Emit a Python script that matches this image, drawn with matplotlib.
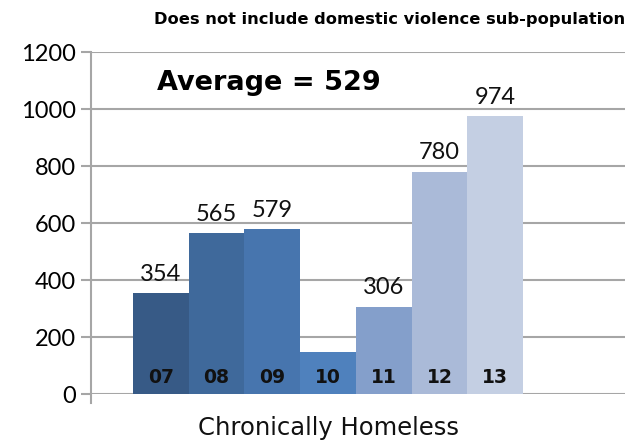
import matplotlib
matplotlib.use("Agg")
import matplotlib.pyplot as plt

years = ["07", "08", "09", "10", "11", "12", "13"]
values = [354, 565, 579, 148, 306, 780, 974]
value_labels = ["354", "565", "579", "", "306", "780", "974"]
colors = ["#375a86", "#3f699b", "#4775ae", "#4f81bd", "#849fcb", "#aabad8", "#c4cfe3"]
yticks = [0, 200, 400, 600, 800, 1000, 1200]

plt.rcParams['font.family'] = ['Lato', 'DejaVu Sans']
wide = ['DejaVu Sans']

fig = plt.figure(figsize=(6.34, 4.43), dpi=100)
ax = fig.add_axes([0.1435, 0.1106, 0.8425, 0.772])

x = list(range(len(years)))
bars = ax.bar(x, values, width=1.0, color=colors, zorder=2)

for xi, v, lab, yr in zip(x, values, value_labels, years):
    if lab:
        ax.annotate(lab, (xi, v), xytext=(0, 6), textcoords="offset points",
                    ha="center", va="bottom", fontsize=17, color="#111111")
    ax.text(xi, 58, yr, ha="center", va="center", fontsize=13.5,
            fontweight="bold", color="#111111", zorder=3, family=wide)

ax.set_xlim(-1.254, 8.33)
ax.set_ylim(0, 1200)
ax.set_yticks(yticks)
ax.set_yticklabels([str(t) for t in yticks], fontsize=17)
ax.yaxis.grid(True, color="#a6a6a6", linewidth=1.5, zorder=0)
ax.set_axisbelow(True)

for s in ["top", "right", "bottom"]:
    ax.spines[s].set_visible(False)
ax.spines["left"].set_color("#a6a6a6")
ax.spines["left"].set_linewidth(1.5)
ax.spines["left"].set_bounds(-30, 1200)
ax.tick_params(axis="y", length=7, width=1.5, color="#a6a6a6", pad=4)
ax.set_xticks([])

ax.set_xlabel("Chronically Homeless", fontsize=17.5, color="#111111", family=wide)
ax.xaxis.set_label_coords(0.444, -0.065, transform=ax.transAxes)
ax.xaxis.label.set_va("top")

ax.text(0.123, 0.91, "Average = 529", transform=ax.transAxes, fontsize=19.5,
        fontweight="bold", ha="left", va="center", color="#000000", family=wide)
fig.text(0.986, 0.955, "Does not include domestic violence sub-population",
         ha="right", va="center", fontsize=11.7, fontweight="bold", color="#000000",
         family=wide)

fig.savefig("out.png", dpi=100)
